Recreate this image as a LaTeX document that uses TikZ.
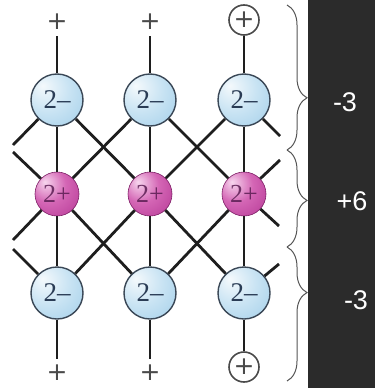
\documentclass[tikz,border=0pt]{standalone}
\usepackage{fontspec}
\newfontfamily\labelfont{Liberation Sans}
\newfontfamily\markfont{DejaVu Sans}
\newfontfamily\ionfont{Liberation Serif}
\usetikzlibrary{decorations.pathreplacing}

\definecolor{panel}{HTML}{2B2B2B}
\definecolor{bond}{HTML}{1E1E1E}
\definecolor{anionhi}{HTML}{F4F9FC}
\definecolor{anionmid}{HTML}{C8E3F3}
\definecolor{anionlo}{HTML}{96C8E6}
\definecolor{anionrim}{HTML}{3A4756}
\definecolor{aniontext}{HTML}{2A3C55}
\definecolor{cationhi}{HTML}{F7D6EE}
\definecolor{cationmid}{HTML}{D466B5}
\definecolor{cationlo}{HTML}{AE2E8E}
\definecolor{cationrim}{HTML}{7E1F66}
\definecolor{cationtext}{HTML}{5A1D52}
\definecolor{plusgray}{HTML}{4A4A4A}
\definecolor{bracegray}{HTML}{555555}

% shaded spheres with the highlight towards the upper left
\pgfdeclareradialshading{anionball}{\pgfpoint{-14bp}{14bp}}{%
  color(0bp)=(anionhi); color(22bp)=(anionmid); color(52bp)=(anionlo); color(72bp)=(anionlo)}
\pgfdeclareradialshading{cationball}{\pgfpoint{-14bp}{14bp}}{%
  color(0bp)=(cationhi); color(20bp)=(cationmid); color(50bp)=(cationlo); color(72bp)=(cationrim)}

\tikzset{
  anion/.style={circle, minimum size=52pt, inner sep=0pt, shading=anionball,
    draw=anionrim, line width=1.4pt, text=aniontext,
    font=\ionfont\fontsize{27}{27}\selectfont},
  cation/.style={circle, minimum size=44pt, inner sep=0pt, shading=cationball,
    draw=cationrim, line width=0.6pt, text=cationtext, text opacity=0.85,
    font=\ionfont\fontsize{26}{26}\selectfont},
  plussign/.style={circle, minimum size=28pt, inner sep=0pt, text=plusgray,
    font=\markfont\fontsize{25}{25}\selectfont},
  ringplus/.style={circle, minimum size=30pt, inner sep=0pt, draw=plusgray,
    line width=1.6pt, text=plusgray, font=\markfont\fontsize{25}{25}\selectfont},
  bondline/.style={draw=bond, line width=2.8pt},
  bracestyle/.style={draw=bracegray, line width=1pt, decorate},
  charge/.style={text=white, font=\labelfont\fontsize{27}{27}\selectfont}
}

\begin{document}
\begin{tikzpicture}[x=1pt, y=-1pt]
  \useasboundingbox (0,0) rectangle (375,388);
  \fill[white] (0,0) rectangle (375,388);
  \fill[panel] (308,0) rectangle (375,388);

  % ions
  \foreach \i/\x in {1/57, 2/150, 3/244} {
    \node[anion]  (a\i) at (\x,100) {2\textendash};
    \node[cation] (b\i) at (\x,194) {2+};
    \node[anion]  (c\i) at (\x,293) {2\textendash};
  }

  % plus ends of the chains
  \node[plussign] (t1) at (57,22) {+};
  \node[plussign] (t2) at (150,22) {+};
  \node[ringplus] (t3) at (244,20) {+};
  \node[plussign] (u1) at (57,373) {+};
  \node[plussign] (u2) at (150,373) {+};
  \node[ringplus] (u3) at (244,367) {+};

  % loose bond ends at the sides
  \coordinate (s1) at (13,145);
  \coordinate (s2) at (13,152);
  \coordinate (s3) at (13,240);
  \coordinate (s4) at (13,249);
  \coordinate (r1) at (280,136);
  \coordinate (r2) at (280,160);
  \coordinate (r3) at (279,226);
  \coordinate (r4) at (279,264);

  % vertical bonds
  \foreach \i in {1,2,3} {
    \draw[bondline] (t\i) -- (a\i);
    \draw[bondline] (a\i) -- (b\i);
    \draw[bondline] (b\i) -- (c\i);
    \draw[bondline] (c\i) -- (u\i);
  }
  % diagonal bonds
  \draw[bondline] (a1) -- (b2);
  \draw[bondline] (a2) -- (b1);
  \draw[bondline] (a2) -- (b3);
  \draw[bondline] (a3) -- (b2);
  \draw[bondline] (c1) -- (b2);
  \draw[bondline] (c2) -- (b1);
  \draw[bondline] (c2) -- (b3);
  \draw[bondline] (c3) -- (b2);
  \draw[bondline] (a1) -- (s1);
  \draw[bondline] (b1) -- (s2);
  \draw[bondline] (b1) -- (s3);
  \draw[bondline] (c1) -- (s4);
  \draw[bondline] (a3) -- (r1);
  \draw[bondline] (b3) -- (r2);
  \draw[bondline] (b3) -- (r3);
  \draw[bondline] (c3) -- (r4);

  % braces grouping the layers
  \coordinate (k0) at (287,5);
  \coordinate (k1) at (287,150);
  \coordinate (k2) at (287,247);
  \coordinate (k3) at (287,381);
  \draw[bracestyle, decoration={brace, amplitude=20pt, aspect=0.64}] (k0) -- (k1);
  \draw[bracestyle, decoration={brace, amplitude=20pt, aspect=0.52}] (k1) -- (k2);
  \draw[bracestyle, decoration={brace, amplitude=20pt, aspect=0.34}] (k2) -- (k3);

  % layer charges
  \node[charge] (q1) at (345,102) {-3};
  \node[charge] (q2) at (352,201) {+6};
  \node[charge] (q3) at (356,300) {-3};
\end{tikzpicture}
\end{document}
